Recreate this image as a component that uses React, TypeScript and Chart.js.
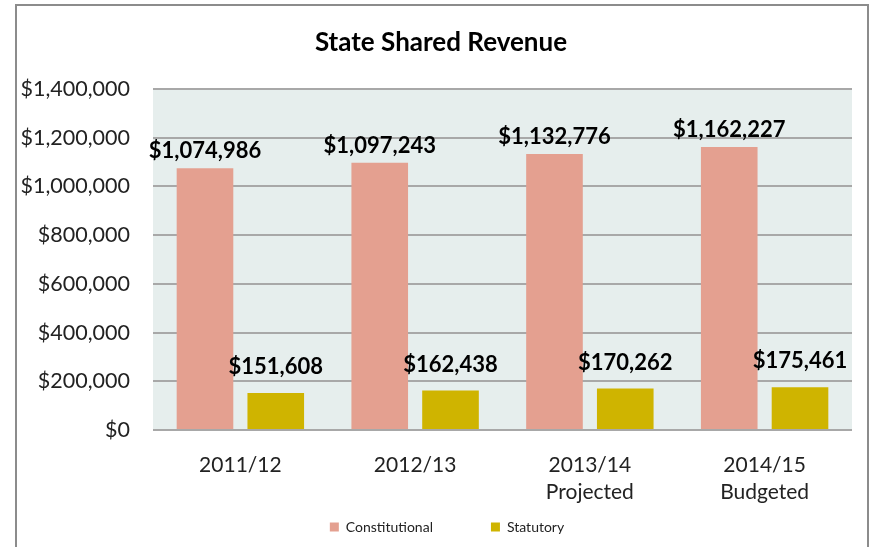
import React, { useEffect, useRef } from "react";
import { Chart, registerables } from "chart.js";

Chart.register(...registerables);

const categories: (string | string[])[] = ["2011/12", "2012/13", ["2013/14", "Projected"], ["2014/15", "Budgeted"]];
const constitutional = [1074986, 1097243, 1132776, 1162227];
const statutory = [151608, 162438, 170262, 175461];
const seriesNames = ["Constitutional", "Statutory"];
const titleText = "State Shared Revenue";
const yMax = 1400000;
const yStep = 200000;

const FONT = "Lato, 'Noto Sans', sans-serif";
const LEGEND_PAD = 58;
const LEGEND_FONT = 14;

const fmt = (v: number) => "$" + v.toLocaleString("en-US");

const frameAndBg = {
  id: "frameAndBg",
  beforeDraw(chart: any) {
    const { ctx, chartArea } = chart;
    ctx.save();
    ctx.fillStyle = "#ffffff";
    ctx.fillRect(0, 0, chart.width, chart.height);
    ctx.strokeStyle = "#8c8c8c";
    ctx.lineWidth = 2;
    ctx.strokeRect(16, 5, 852, chart.height + 10);
    ctx.fillStyle = "#e6eeed";
    ctx.fillRect(chartArea.left, chartArea.top, chartArea.right - chartArea.left, chartArea.bottom - chartArea.top);
    ctx.restore();
  },
};

// Legend: wide horizontal spacing but compact height; title/legend nudged horizontally.
const shiftBlocks = {
  id: "shiftBlocks",
  beforeLayout(chart: any) {
    const lg = chart.legend;
    if (lg && !lg.__patched) {
      lg.__patched = true;
      const fit = lg.fit.bind(lg);
      lg.fit = function () {
        fit();
        this.height = 16 + LEGEND_FONT;
      };
      const draw = lg.draw.bind(lg);
      lg.draw = function (...args: any[]) {
        const ctx = this.ctx;
        const top = this.top;
        this.top = top - (LEGEND_PAD - 8);
        ctx.save();
        ctx.translate(21, 0);
        draw(...args);
        ctx.restore();
        this.top = top;
      };
    }
    const tb = chart.titleBlock;
    if (tb && !tb.__patched) {
      tb.__patched = true;
      const draw = tb.draw.bind(tb);
      tb.draw = function (...args: any[]) {
        const ctx = this.ctx;
        ctx.save();
        ctx.translate(15, 0);
        draw(...args);
        ctx.restore();
      };
    }
  },
};

const dataLabels = {
  id: "dataLabels",
  afterDatasetsDraw(chart: any) {
    const { ctx } = chart;
    const offsets = [17, 26];
    ctx.save();
    ctx.font = `bold 22px ${FONT}`;
    ctx.fillStyle = "#000000";
    ctx.textAlign = "center";
    ctx.textBaseline = "middle";
    chart.data.datasets.forEach((ds: any, di: number) => {
      const meta = chart.getDatasetMeta(di);
      meta.data.forEach((bar: any, i: number) => {
        ctx.fillText(fmt(ds.data[i]), bar.x, bar.y - offsets[di]);
      });
    });
    ctx.restore();
  },
};

export default function App() {
  const ref = useRef<HTMLCanvasElement | null>(null);
  useEffect(() => {
    document.body.style.margin = "0";
    const chart = new Chart(ref.current as HTMLCanvasElement, {
      type: "bar",
      data: {
        labels: categories as any,
        datasets: [
          { label: seriesNames[0], data: constitutional, backgroundColor: "#e4a090", categoryPercentage: 0.81, barPercentage: 0.8 },
          { label: seriesNames[1], data: statutory, backgroundColor: "#cfb400", categoryPercentage: 0.81, barPercentage: 0.8 },
        ],
      },
      options: {
        animation: false,
        responsive: false,
        maintainAspectRatio: false,
        layout: { padding: { left: 0, right: 21, top: 0, bottom: 5 } },
        plugins: {
          title: {
            display: true,
            text: titleText,
            color: "#000000",
            font: { family: FONT, size: 26, weight: "bold", lineHeight: 1.2 },
            padding: { top: 27.4, bottom: 30.4 },
          },
          legend: {
            display: true,
            position: "bottom",
            labels: {
              color: "#222222",
              font: { family: FONT, size: LEGEND_FONT },
              boxWidth: 9,
              boxHeight: 9,
              padding: LEGEND_PAD,
            },
          },
          tooltip: { enabled: false },
        },
        scales: {
          x: {
            grid: { display: false, drawTicks: false },
            border: { display: false },
            ticks: { color: "#222222", font: { family: FONT, size: 21, lineHeight: 1.29 }, padding: 21.5, maxRotation: 0, autoSkip: false },
            afterFit: (s: any) => { s.height = 82; },
          },
          y: {
            min: 0,
            max: yMax,
            ticks: {
              stepSize: yStep,
              color: "#222222",
              font: { family: FONT, size: 21.5 },
              padding: 23,
              callback: (v: any) => fmt(Number(v)),
            },
            grid: { color: "#a8a8a8", lineWidth: 2, drawTicks: false },
            border: { display: false },
            afterFit: (s: any) => { s.width = 153; },
          },
        },
      },
      plugins: [frameAndBg, shiftBlocks, dataLabels],
    });
    return () => chart.destroy();
  }, []);
  return <canvas ref={ref} width={873} height={547} style={{ display: "block" }} />;
}
